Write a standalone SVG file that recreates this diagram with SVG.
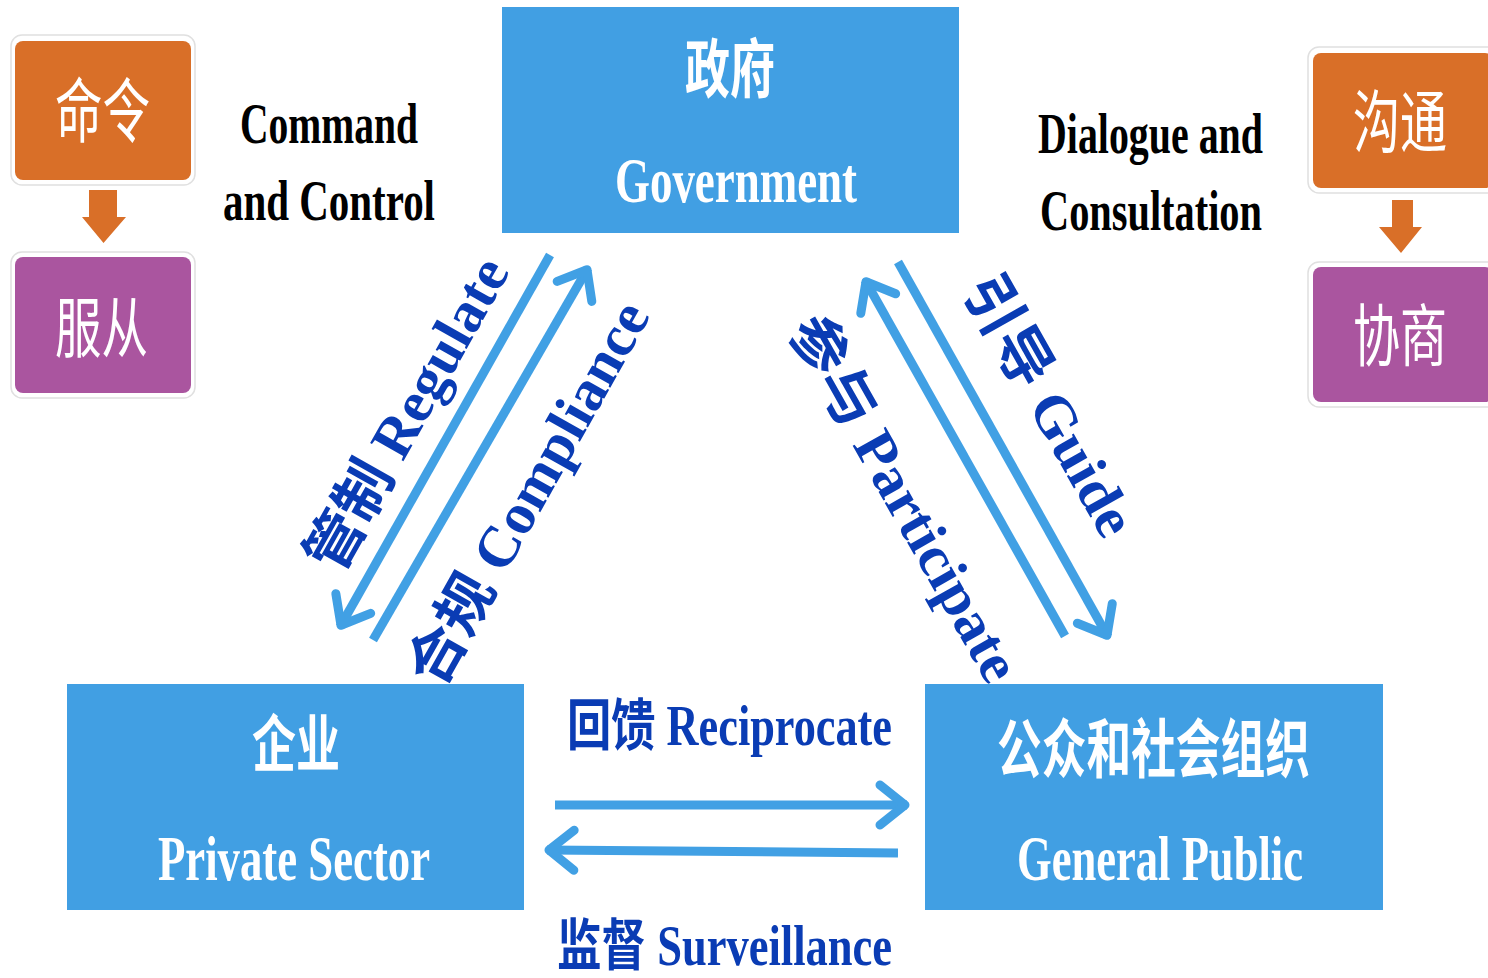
<svg xmlns="http://www.w3.org/2000/svg" width="1488" height="978" viewBox="0 0 1488 978">
<defs>
<style>
.bg{fill:#ffffff}
.big{fill:#419fe3}
.halo{fill:#ffffff;stroke:#e0e0e0;stroke-width:1.5}
.org{fill:#d96f28}
.pur{fill:#aa559f}
.t{font-family:"Liberation Serif","Noto Sans CJK SC",serif;font-weight:bold}
.w{fill:#ffffff}
.k{fill:#000000}
.b{fill:#0a3cb4}
.cjk{font-family:"Noto Sans CJK SC",sans-serif;fill:#ffffff}
.ln{stroke:#41a0e4;stroke-width:9;fill:none}
.down{fill:#d96f28}
</style>
<marker id="chev" markerUnits="userSpaceOnUse" viewBox="-45 -35 55 70" refX="0" refY="0" markerWidth="55" markerHeight="70" orient="auto">
<path d="M-27,-20 L-2,0 L-27,20" fill="none" stroke="#41a0e4" stroke-width="9" stroke-linecap="round" stroke-linejoin="round"/>
</marker>
</defs>
<rect class="bg" x="0" y="0" width="1488" height="978"/>

<g id="command">
<rect class="halo" x="11" y="35" width="184" height="150" rx="11"/>
<rect class="org" x="15" y="41" width="176" height="139" rx="8"/>
<text class="cjk" x="55" y="137" font-size="70" textLength="95" lengthAdjust="spacingAndGlyphs">命令</text>
</g>
<g id="arrow-left-down">
<path class="down" d="M89,190 H117 V217 H126 L103.5,243 L82,217 H89 Z"/>
</g>
<g id="obey">
<rect class="halo" x="11" y="252" width="184" height="146" rx="11"/>
<rect class="pur" x="15" y="257" width="176" height="136" rx="8"/>
<text class="cjk" x="55" y="352" font-size="66" textLength="93" lengthAdjust="spacingAndGlyphs">服从</text>
</g>

<g id="communicate">
<rect class="halo" x="1308" y="47" width="190" height="146" rx="11"/>
<rect class="org" x="1313" y="53" width="180" height="135" rx="8"/>
<text class="cjk" x="1353" y="147" font-size="68" textLength="94" lengthAdjust="spacingAndGlyphs">沟通</text>
</g>
<g id="arrow-right-down">
<path class="down" d="M1392,200 H1413 V227 H1422 L1401,253 L1379,227 H1392 Z"/>
</g>
<g id="consult">
<rect class="halo" x="1308" y="262" width="190" height="145" rx="11"/>
<rect class="pur" x="1313" y="267" width="180" height="135" rx="8"/>
<text class="cjk" x="1353" y="361" font-size="68" textLength="94" lengthAdjust="spacingAndGlyphs">协商</text>
</g>

<g id="label-command">
<text class="t k" x="240" y="143" font-size="56" textLength="178" lengthAdjust="spacingAndGlyphs">Command</text>
<text class="t k" x="223" y="220" font-size="56" textLength="212" lengthAdjust="spacingAndGlyphs">and Control</text>
</g>
<g id="label-dialogue">
<text class="t k" x="1038" y="153" font-size="56" textLength="225" lengthAdjust="spacingAndGlyphs">Dialogue and</text>
<text class="t k" x="1040" y="230" font-size="56" textLength="222" lengthAdjust="spacingAndGlyphs">Consultation</text>
</g>

<g id="government">
<rect class="big" x="502" y="7" width="457" height="226"/>
<text class="t w" x="685" y="92" font-size="64" textLength="90" lengthAdjust="spacingAndGlyphs">政府</text>
<text class="t w" x="615" y="202" font-size="64" textLength="242" lengthAdjust="spacingAndGlyphs">Government</text>
</g>
<g id="private">
<rect class="big" x="67" y="684" width="457" height="226"/>
<text class="t w" x="252" y="767" font-size="62" textLength="88" lengthAdjust="spacingAndGlyphs">企业</text>
<text class="t w" x="158" y="880" font-size="64" textLength="272" lengthAdjust="spacingAndGlyphs">Private Sector</text>
</g>
<g id="public">
<rect class="big" x="925" y="684" width="458" height="226"/>
<text class="t w" x="997" y="772" font-size="64" textLength="313" lengthAdjust="spacingAndGlyphs">公众和社会组织</text>
<text class="t w" x="1017" y="880" font-size="64" textLength="286" lengthAdjust="spacingAndGlyphs">General Public</text>
</g>

<g id="connectors">
<line class="ln" x1="550" y1="255" x2="340" y2="627" marker-end="url(#chev)"/>
<line class="ln" x1="373" y1="640" x2="588" y2="268" marker-end="url(#chev)"/>
<line class="ln" x1="898" y1="262" x2="1108" y2="637" marker-end="url(#chev)"/>
<line class="ln" x1="1065" y1="636" x2="865" y2="280" marker-end="url(#chev)"/>
<line class="ln" x1="555" y1="805" x2="907" y2="805" marker-end="url(#chev)"/>
<line class="ln" x1="898" y1="853" x2="547" y2="850" marker-end="url(#chev)"/>
</g>

<g id="connector-labels">
<text class="t b" transform="translate(407,414) rotate(-60.6)" x="-175" y="20" font-size="58" textLength="350" lengthAdjust="spacingAndGlyphs">管制 Regulate</text>
<text class="t b" transform="translate(528,493) rotate(-60.6)" x="-215" y="20" font-size="58" textLength="430" lengthAdjust="spacingAndGlyphs">合规 Compliance</text>
<text class="t b" transform="translate(1050,405) rotate(60.6)" x="-145" y="20" font-size="58" textLength="290" lengthAdjust="spacingAndGlyphs">引导 Guide</text>
<text class="t b" transform="translate(905,498) rotate(60.6)" x="-205" y="20" font-size="58" textLength="410" lengthAdjust="spacingAndGlyphs">参与 Participate</text>
<text class="t b" x="567" y="745" font-size="56" textLength="325" lengthAdjust="spacingAndGlyphs">回馈 Reciprocate</text>
<text class="t b" x="557" y="965" font-size="56" textLength="335" lengthAdjust="spacingAndGlyphs">监督 Surveillance</text>
</g>
</svg>
